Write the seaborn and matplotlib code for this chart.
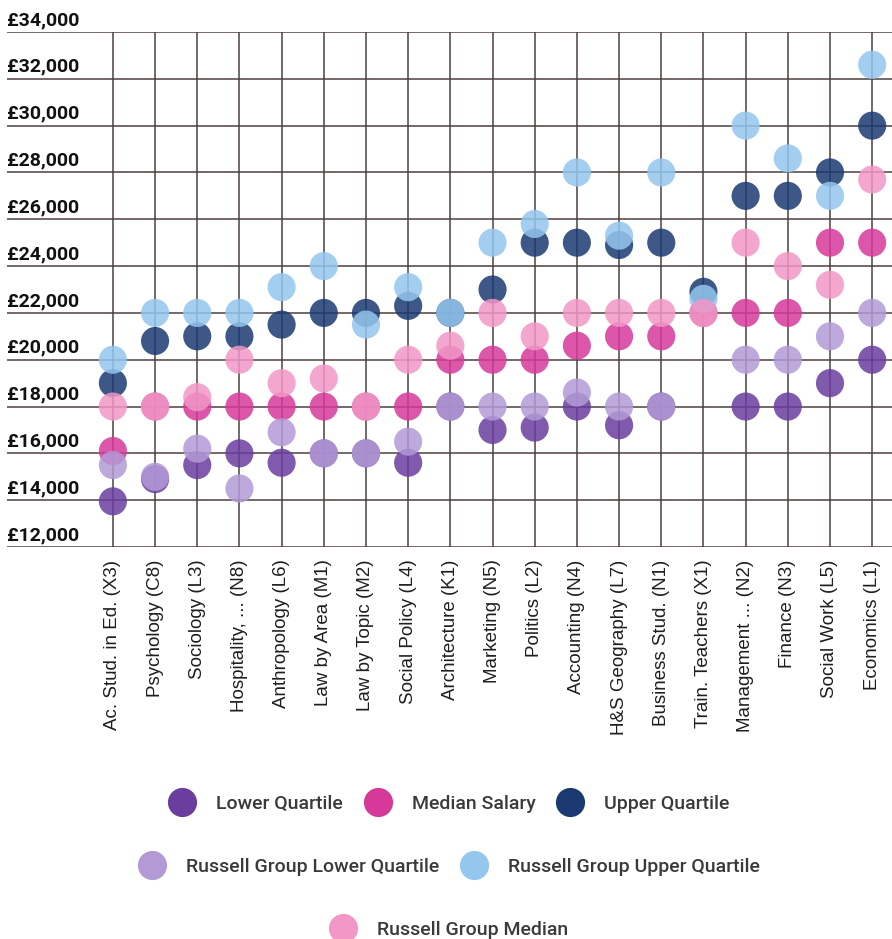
import matplotlib
matplotlib.use("Agg")
import matplotlib.pyplot as plt
from matplotlib.lines import Line2D
import numpy as np
import pandas as pd
import seaborn as sns

subjects = ["Ac. Stud. in Ed. (X3)", "Psychology (C8)", "Sociology (L3)", "Hospitality, ... (N8)",
            "Anthropology (L6)", "Law by Area (M1)", "Law by Topic (M2)", "Social Policy (L4)",
            "Architecture (K1)", "Marketing (N5)", "Politics (L2)", "Accounting (N4)",
            "H&S Geography (L7)", "Business Stud. (N1)", "Train. Teachers (X1)", "Management ... (N2)",
            "Finance (N3)", "Social Work (L5)", "Economics (L1)"]

nan = np.nan
lower_q = [13950, 14900, 15500, 16000, 15600, 16000, 16000, 15600, 18000, 17000,
           17100, 18000, 17200, 18000, nan, 18000, 18000, 19000, 20000]
median_salary = [16100, 18000, 18000, 18000, 18000, 18000, 18000, 18000, 20000, 20000,
                 20000, 20600, 21000, 21000, 22000, 22000, 22000, 25000, 25000]
upper_q = [19000, 20800, 21000, 21000, 21500, 22000, 22000, 22300, 22000, 23000,
           25000, 25000, 24900, 25000, 22900, 27000, 27000, 28000, 30000]
rg_lower_q = [15500, 15000, 16200, 14500, 16900, 16000, 16000, 16500, 18000, 18000,
              18000, 18600, 18000, 18000, nan, 20000, 20000, 21000, 22000]
rg_upper_q = [20000, 22000, 22000, 22000, 23100, 24000, 21500, 23100, 22000, 25000,
              25800, 28000, 25300, 28000, 22600, 30000, 28600, 27000, 32600]
rg_median = [18000, 18000, 18400, 20000, 19000, 19200, 18000, 20000, 20600, 22000,
             21000, 22000, 22000, 22000, 22000, 25000, 24000, 23200, 27700]

series_names = ["Lower Quartile", "Median Salary", "Upper Quartile",
                "Russell Group Lower Quartile", "Russell Group Upper Quartile", "Russell Group Median"]
series_values = [lower_q, median_salary, upper_q, rg_lower_q, rg_upper_q, rg_median]
colors = ["#6a3d9f", "#d6399a", "#1b3a72", "#b39ad6", "#94c6ee", "#f297c6"]
y_ticks = list(range(12000, 34001, 2000))

frames = []
for name, vals in zip(series_names, series_values):
    frames.append(pd.DataFrame({"subject": subjects, "salary": vals, "series": name}))
df = pd.concat(frames, ignore_index=True)
df["subject"] = pd.Categorical(df["subject"], categories=subjects, ordered=True)
df = df.dropna()

sns.set_style("white")
plt.rcParams["font.family"] = ["Liberation Sans", "DejaVu Sans"]

fig = plt.figure(figsize=(8.92, 9.39), dpi=100)
ax = fig.add_axes([7 / 892, 1 - 547 / 939, 1 - 7 / 892, (547 - 32) / 939])

sns.scatterplot(data=df, x="subject", y="salary", hue="series", hue_order=series_names,
                palette=dict(zip(series_names, colors)), s=410, alpha=0.85,
                linewidth=0, legend=False, ax=ax, zorder=3)

ax.set_xlim(-2.51, 18.47)
ax.set_ylim(12000, 34000)
ax.set_yticks(y_ticks)
ax.set_yticklabels([])
ax.grid(True, color="#4f3f3f", linewidth=1.1)
ax.set_axisbelow(True)
for sp in ax.spines.values():
    sp.set_visible(False)
ax.set_xlabel("")
ax.set_ylabel("")
ax.tick_params(axis="both", length=0)
ax.tick_params(axis="x", pad=9)
plt.setp(ax.get_xticklabels(), rotation=90, ha="center", va="top", fontsize=13.5, color="#1e1e1e")

for v in y_ticks:
    ax.annotate(f"£{v:,}", xy=(0, v), xycoords=ax.get_yaxis_transform(),
                xytext=(0, 5), textcoords="offset points", ha="left", va="baseline",
                fontsize=14, fontweight="bold", family="Roboto", color="#111111",
                annotation_clip=False)

handles = [Line2D([], [], marker="o", linestyle="", markersize=21, markerfacecolor=c,
                  markeredgewidth=0, label=n) for n, c in zip(series_names, colors)]
rows = [(handles[0:3], 3, 0.1438), (handles[3:5], 2, 0.0767), (handles[5:6], 1, 0.0096)]
for hs, nc, yy in rows:
    fig.legend(handles=hs, loc="center", bbox_to_anchor=(0.5067, yy), ncol=nc, frameon=False,
               prop=dict(family="Roboto", weight="medium", size=14), labelcolor="#3a3a3a",
               handlelength=0.8, handletextpad=1.34, columnspacing=1.39, borderpad=0)

fig.savefig("out.png", dpi=100)
